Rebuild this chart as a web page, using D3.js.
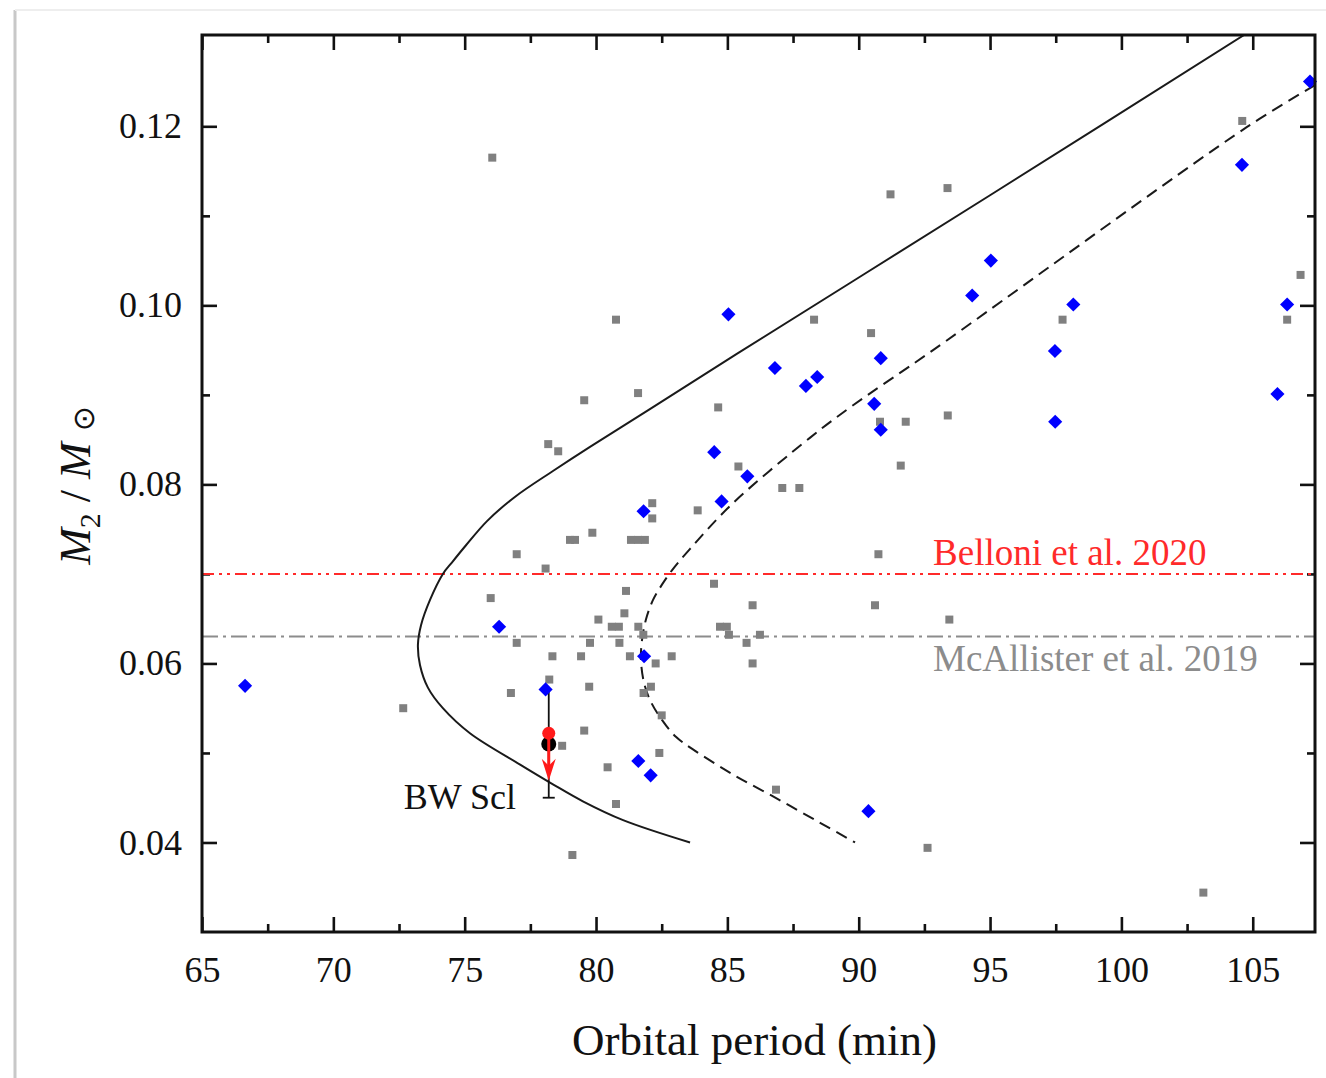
<!DOCTYPE html>
<html>
<head>
  <title>M2 vs orbital period</title>
  <script src="https://d3js.org/d3.v7.min.js"></script>
  <style>
    body { margin: 0; background: #fff; }
    text { font-family: "Liberation Serif", "Times New Roman", serif; }
  </style>
</head>
<body>
  <div id="chart"></div>

  <script>
    // gray squares (literature CVs)
    var grayPeriod = [76.05, 80.76, 88.30, 104.60, 91.21, 93.38, 106.82, 106.31, 97.76, 90.47,
      90.81, 91.79, 93.39, 91.60, 90.75, 90.62, 93.45, 81.60, 79.55, 84.65,
      78.18, 78.56, 85.42, 87.09, 87.74, 82.14, 82.14, 83.87, 79.86, 79.01,
      79.20, 81.33, 81.60, 81.86, 76.98, 78.08, 84.49, 81.14, 75.99, 85.96,
      81.08, 80.09, 80.60, 80.87, 81.61, 84.72, 84.98, 81.80, 85.06, 86.24,
      76.98, 79.77, 80.89, 85.73, 78.34, 79.43, 81.29, 82.88, 82.27, 85.96,
      78.22, 79.74, 82.09, 76.76, 81.81, 72.66, 82.50, 79.55, 78.71, 82.41,
      80.44, 86.85, 80.76, 79.10, 92.62, 103.12];
    var grayMass = [0.1165, 0.0984, 0.0984, 0.1206, 0.1124, 0.1131, 0.1034, 0.0984, 0.0984, 0.0969,
      0.0870, 0.0870, 0.0877, 0.0821, 0.0722, 0.0665, 0.0649, 0.0902, 0.0894, 0.0886,
      0.0845, 0.0837, 0.0820, 0.0796, 0.0796, 0.0779, 0.0762, 0.0771, 0.0746, 0.0738,
      0.0738, 0.0738, 0.0738, 0.0738, 0.0722, 0.0706, 0.0689, 0.0681, 0.0673, 0.0665,
      0.0656, 0.0649, 0.0641, 0.0641, 0.0641, 0.0641, 0.0641, 0.0632, 0.0632, 0.0632,
      0.0623, 0.0623, 0.0623, 0.0623, 0.0608, 0.0608, 0.0608, 0.0608, 0.0600, 0.0600,
      0.0582, 0.0574, 0.0574, 0.0567, 0.0567, 0.0550, 0.0542, 0.0525, 0.0508, 0.0500,
      0.0484, 0.0459, 0.0443, 0.0386, 0.0394, 0.0344];

    // blue diamonds
    var bluePeriod = [107.18, 104.59, 85.04, 95.03, 94.32, 106.31, 98.17, 97.47, 90.84, 90.59,
      90.84, 97.48, 105.94, 86.81, 87.99, 88.42, 84.50, 85.76, 84.78, 81.81,
      76.31, 81.83, 78.08, 66.64, 81.61, 82.08, 90.37];
    var blueMass = [0.1250, 0.1157, 0.0990, 0.1050, 0.1011, 0.1001, 0.1001, 0.0949, 0.0941, 0.0890,
      0.0861, 0.0870, 0.0901, 0.0930, 0.0910, 0.0920, 0.0836, 0.0809, 0.0781, 0.0770,
      0.0641, 0.0608, 0.0571, 0.0575, 0.0491, 0.0475, 0.0435];

    // evolutionary tracks
    var solidPeriod = [104.67, 95.00, 89.67, 85.48, 82.05, 79.77, 78.36, 76.91, 75.85, 75.05,
      74.52, 74.17, 73.68, 73.34, 73.22, 73.30, 73.60, 74.17, 75.20, 77.11,
      78.36, 79.50, 81.03, 83.58];
    var solidMass = [0.1302, 0.1123, 0.1025, 0.0948, 0.0884, 0.0842, 0.0815, 0.0786, 0.0759, 0.0732,
      0.0713, 0.0700, 0.0671, 0.0643, 0.0621, 0.0598, 0.0573, 0.0550, 0.0522, 0.0487,
      0.0465, 0.0446, 0.0425, 0.0400];
    var dashPeriod = [107.37, 104.77, 92.83, 89.67, 88.14, 85.21, 83.58, 82.89, 82.51, 82.17,
      81.90, 81.75, 81.71, 81.83, 82.09, 82.51, 83.04, 83.69, 85.21, 86.89,
      88.53, 89.86];
    var dashMass = [0.1246, 0.1199, 0.0950, 0.0886, 0.0852, 0.0779, 0.0728, 0.0704, 0.0688, 0.0671,
      0.0649, 0.0626, 0.0604, 0.0578, 0.0557, 0.0537, 0.0518, 0.0504, 0.0476, 0.0449,
      0.0422, 0.0400];

    // horizontal reference values
    var refNames = ["Belloni et al. 2020", "McAllister et al. 2019"];
    var refMass = [0.070, 0.063];
    var refColors = ["#ff2a2a", "#8c8c8c"];

    // BW Scl
    var bwPeriod = 78.2;
    var bwMass = 0.051;
    var bwErr = 0.006;
    var bwUpper = 0.0522;
    var bwArrowTo = 0.0469;

    var xMajor = [65, 70, 75, 80, 85, 90, 95, 100, 105];
    var xMinor = [67.5, 72.5, 77.5, 82.5, 87.5, 92.5, 97.5, 102.5];
    var yMajor = [0.04, 0.06, 0.08, 0.10, 0.12];
    var yMinor = [0.05, 0.07, 0.09, 0.11];

    var margin = { top: 35, right: 11, bottom: 146, left: 202 };
    var width = 1113;
    var height = 897;

    var svgRoot = d3.select("#chart")
      .append("svg")
      .attr("width", 1326)
      .attr("height", 1078);

    // faint page frame
    svgRoot.append("line").attr("x1", 15).attr("x2", 15).attr("y1", 10).attr("y2", 1078)
      .attr("stroke", "#c8c8c8").attr("stroke-width", 3);
    svgRoot.append("line").attr("x1", 15).attr("x2", 1326).attr("y1", 10).attr("y2", 10)
      .attr("stroke", "#eeeeee").attr("stroke-width", 2);

    var svg = svgRoot.append("g")
      .attr("transform", "translate(" + margin.left + "," + margin.top + ")");

    var x = d3.scaleLinear().domain([65, 107.37]).range([0, width]);
    var y = d3.scaleLinear().domain([0.030, 0.1302]).range([height, 0]);

    svg.append("clipPath").attr("id", "clip")
      .append("rect").attr("width", width).attr("height", height);

    // ticks on all four sides, pointing inward
    function ticks(axis, values, size, labels, transform) {
      var g = svg.append("g")
        .attr("transform", transform)
        .call(axis.tickValues(values).tickSize(-size));
      g.select(".domain").remove();
      g.selectAll(".tick line").attr("stroke", "#111").attr("stroke-width", 2.6);
      if (!labels) g.selectAll(".tick text").remove();
      return g;
    }

    var bottom = ticks(d3.axisBottom(x).tickFormat(d3.format("d")), xMajor, 15, true, "translate(0," + height + ")");
    bottom.selectAll(".tick text").attr("y", 24).attr("font-size", 36).attr("fill", "#111");
    ticks(d3.axisBottom(x), xMinor, 8, false, "translate(0," + height + ")");
    ticks(d3.axisTop(x), xMajor, 15, false, "translate(0,0)");
    ticks(d3.axisTop(x), xMinor, 8, false, "translate(0,0)");

    var left = ticks(d3.axisLeft(y).tickFormat(d3.format(".2f")), yMajor, 15, true, "translate(0,0)");
    left.selectAll(".tick text").attr("x", -20).attr("font-size", 36).attr("fill", "#111");
    ticks(d3.axisLeft(y), yMinor, 8, false, "translate(0,0)");
    ticks(d3.axisRight(y), yMajor, 15, false, "translate(" + width + ",0)");
    ticks(d3.axisRight(y), yMinor, 8, false, "translate(" + width + ",0)");

    // reference lines
    var dashes = ["12,5,3,5,3,5", "16,5,3,5"];
    svg.selectAll(".ref")
      .data(refMass)
      .enter()
      .append("line")
      .attr("class", "ref")
      .attr("x1", 0)
      .attr("x2", width)
      .attr("y1", function(d) { return y(d); })
      .attr("y2", function(d) { return y(d); })
      .attr("stroke", function(d, i) { return refColors[i]; })
      .attr("stroke-width", 2)
      .attr("stroke-dasharray", function(d, i) { return dashes[i]; });

    svg.append("text")
      .attr("x", x(92.83))
      .attr("y", y(refMass[0]) - 9)
      .attr("font-size", 37)
      .attr("fill", refColors[0])
      .text(refNames[0]);
    svg.append("text")
      .attr("x", x(92.83))
      .attr("y", y(refMass[1]) + 34)
      .attr("font-size", 37)
      .attr("fill", refColors[1])
      .text(refNames[1]);

    // tracks
    var line = d3.line()
      .x(function(d) { return x(d[0]); })
      .y(function(d) { return y(d[1]); })
      .curve(d3.curveCatmullRom.alpha(0.5));

    svg.append("path")
      .attr("clip-path", "url(#clip)")
      .attr("d", line(d3.zip(solidPeriod, solidMass)))
      .attr("fill", "none")
      .attr("stroke", "#1a1a1a")
      .attr("stroke-width", 2);

    svg.append("path")
      .attr("clip-path", "url(#clip)")
      .attr("d", line(d3.zip(dashPeriod, dashMass)))
      .attr("fill", "none")
      .attr("stroke", "#1a1a1a")
      .attr("stroke-width", 2)
      .attr("stroke-dasharray", "12,7");

    // gray squares
    svg.selectAll(".gray")
      .data(d3.zip(grayPeriod, grayMass))
      .enter()
      .append("path")
      .attr("class", "gray")
      .attr("d", d3.symbol().type(d3.symbolSquare).size(64))
      .attr("transform", function(d) { return "translate(" + x(d[0]) + "," + y(d[1]) + ")"; })
      .attr("fill", "#808080");

    // BW Scl: error bar, measured point, upper limit
    var bx = x(bwPeriod);
    svg.append("line")
      .attr("x1", bx).attr("x2", bx)
      .attr("y1", y(bwMass + bwErr)).attr("y2", y(bwMass - bwErr))
      .attr("stroke", "#111").attr("stroke-width", 1.8);
    svg.append("line")
      .attr("x1", bx - 6).attr("x2", bx + 6)
      .attr("y1", y(bwMass - bwErr)).attr("y2", y(bwMass - bwErr))
      .attr("stroke", "#111").attr("stroke-width", 1.8);
    svg.append("circle")
      .attr("cx", bx).attr("cy", y(bwMass)).attr("r", 7.5)
      .attr("fill", "#000");
    svg.append("circle")
      .attr("cx", bx).attr("cy", y(bwUpper)).attr("r", 6.5)
      .attr("fill", "#ff1a1a");
    svg.append("line")
      .attr("x1", bx).attr("x2", bx)
      .attr("y1", y(bwUpper)).attr("y2", y(bwArrowTo) - 8)
      .attr("stroke", "#ff1a1a").attr("stroke-width", 3);
    var tipY = y(bwArrowTo);
    svg.append("path")
      .attr("d", "M" + bx + "," + tipY + " L" + (bx - 7) + "," + (tipY - 22) +
        " L" + bx + "," + (tipY - 15) + " L" + (bx + 7) + "," + (tipY - 22) + " Z")
      .attr("fill", "#ff1a1a");

    svg.append("text")
      .attr("x", x(bwPeriod) - 145)
      .attr("y", y(bwMass) + 65)
      .attr("font-size", 36)
      .attr("fill", "#111")
      .text("BW Scl");

    // blue diamonds
    svg.selectAll(".blue")
      .data(d3.zip(bluePeriod, blueMass))
      .enter()
      .append("path")
      .attr("class", "blue")
      .attr("d", d3.symbol().type(d3.symbolSquare).size(100))
      .attr("transform", function(d) { return "translate(" + x(d[0]) + "," + y(d[1]) + ") rotate(45)"; })
      .attr("fill", "#0000ff");

    // frame
    svg.append("rect")
      .attr("width", width)
      .attr("height", height)
      .attr("fill", "none")
      .attr("stroke", "#111")
      .attr("stroke-width", 3);

    // axis titles
    svg.append("text")
      .attr("x", width / 2 - 4)
      .attr("y", height + 123)
      .attr("text-anchor", "middle")
      .attr("font-size", 45)
      .attr("fill", "#111")
      .text("Orbital period (min)");

    var ylab = svg.append("text")
      .attr("transform", "translate(" + (90 - margin.left) + "," + (height / 2 + 2) + ") rotate(-90)")
      .attr("text-anchor", "middle")
      .attr("font-size", 44)
      .attr("fill", "#111");
    ylab.append("tspan").attr("font-style", "italic").text("M");
    ylab.append("tspan").attr("font-size", 30).attr("dy", 10).text("2");
    ylab.append("tspan").attr("dy", -10).text(" / ");
    ylab.append("tspan").attr("font-style", "italic").text("M");
    ylab.append("tspan").text(" ");
    ylab.append("tspan").attr("font-size", 30).attr("dy", 4)
      .attr("font-family", "DejaVu Sans").text("\u2299");
  </script>
</body>
</html>
